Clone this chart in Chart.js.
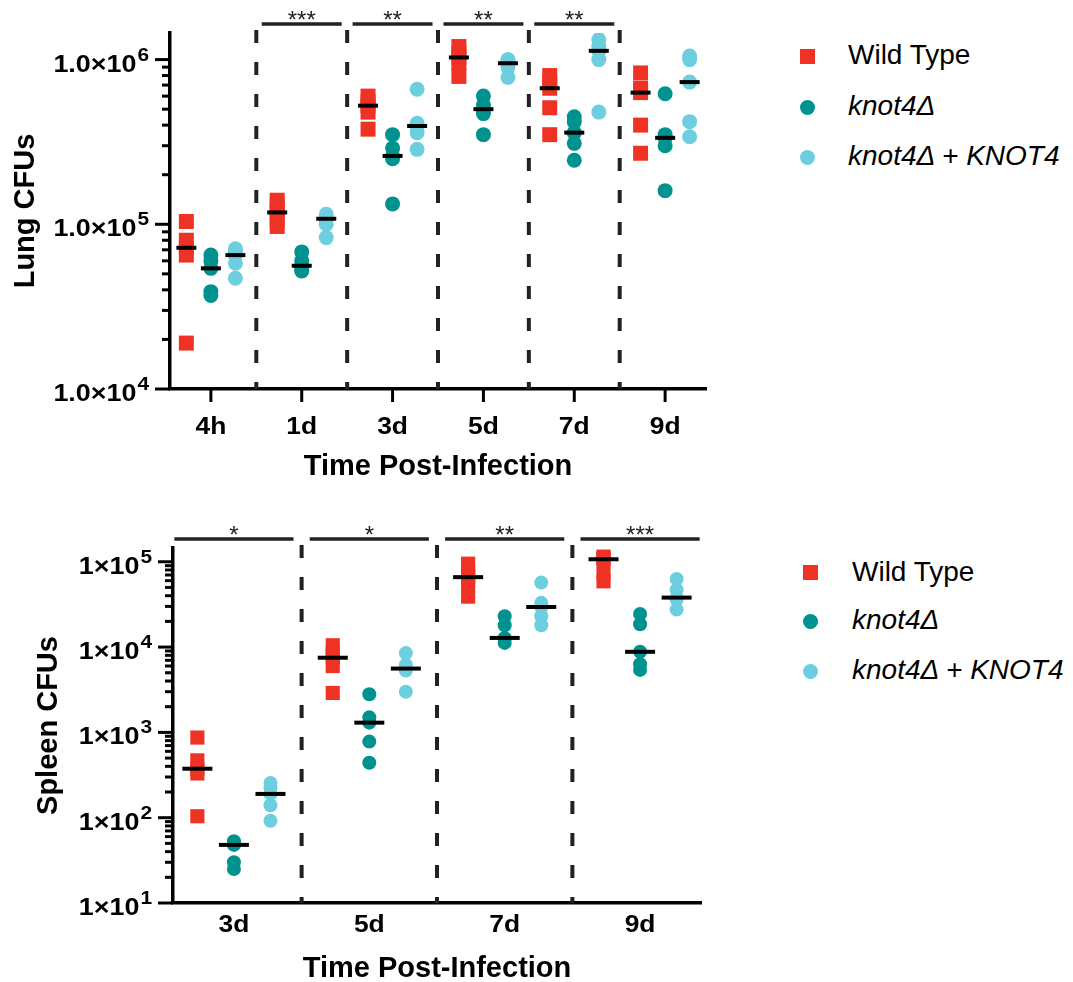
<!DOCTYPE html>
<html>
<head>
<meta charset="utf-8">
<script src="https://cdn.jsdelivr.net/npm/chart.js@4.4.0/dist/chart.umd.min.js"></script>
<style>
  body { margin: 0; background: #fff; width: 1073px; height: 982px; position: relative; overflow: hidden;
         font-family: "Liberation Sans", Arial, sans-serif; }
  .box { position: absolute; left: 0; }
  .leg { position: absolute; font-size: 28px; line-height: 1; color: #000; white-space: nowrap; }
  .mark { position: absolute; }
</style>
</head>
<body>
<div class="box" style="top:0"><canvas id="lung" width="720" height="490"></canvas></div>
<div class="box" style="top:500px"><canvas id="spleen" width="720" height="482"></canvas></div>
<div id="legends"></div>
<script>
// series
const seriesNames = ["Wild Type", "knot4Δ", "knot4Δ + KNOT4"];
const seriesItalic = [false, true, true];
const seriesColors = ["#ee3325", "#00928f", "#6dcedf"];

// lung CFUs, one list of mice per time point
const lungDays = ["4h", "1d", "3d", "5d", "7d", "9d"];
const lungWT = [
  [104000, 80000, 72000, 65000, 19000],
  [140000, 130000, 118000, 105000, 97000],
  [600000, 556000, 525000, 480000, 378000],
  [1200000, 1100000, 1030000, 950000, 790000],
  [800000, 730000, 670000, 510000, 350000],
  [830000, 670000, 630000, 400000, 270000]
];
const lungKO = [
  [65000, 60000, 54000, 39000, 37000],
  [68000, 60000, 56000, 53000, 52000],
  [350000, 290000, 260000, 250000, 133000],
  [600000, 530000, 500000, 470000, 350000],
  [450000, 420000, 360000, 310000, 245000],
  [620000, 350000, 335000, 300000, 160000]
];
const lungComp = [
  [71000, 68000, 65000, 58000, 47000],
  [115000, 110000, 108000, 100000, 83000],
  [660000, 410000, 395000, 360000, 285000],
  [1000000, 970000, 950000, 900000, 780000],
  [1320000, 1200000, 1130000, 1000000, 480000],
  [1050000, 1000000, 730000, 420000, 340000]
];
const lungStars = ["", "***", "**", "**", "**", ""];
const lungYTicks = [1e4, 1e5, 1e6];
const lungYLabels = [["1.0×10", "4"], ["1.0×10", "5"], ["1.0×10", "6"]];

// spleen CFUs
const spleenDays = ["3d", "5d", "7d", "9d"];
const spleenWT = [
  [870, 470, 375, 330, 104],
  [10500, 8500, 7500, 6000, 2900],
  [95000, 77000, 66000, 56000, 39000],
  [115000, 110000, 107000, 75000, 59000]
];
const spleenKO = [
  [53, 50, 48, 30, 25],
  [2800, 1500, 1300, 780, 440],
  [23000, 18000, 12800, 12500, 11200],
  [24500, 18500, 8800, 6300, 5400]
];
const spleenComp = [
  [255, 225, 190, 140, 92],
  [8500, 6200, 5600, 5300, 3000],
  [57000, 33000, 29500, 23000, 18000],
  [63000, 47000, 38000, 36000, 27500]
];
const spleenStars = ["*", "*", "**", "***"];
const spleenYTicks = [1e1, 1e2, 1e3, 1e4, 1e5];
const spleenYLabels = [["1×10", "1"], ["1×10", "2"], ["1×10", "3"], ["1×10", "4"], ["1×10", "5"]];

const FONT = '"Liberation Sans", Arial, sans-serif';
const offsets = [-0.27, 0, 0.27];

function median(arr) {
  const s = [...arr].sort((a, b) => a - b);
  const m = Math.floor(s.length / 2);
  return s.length % 2 ? s[m] : (s[m - 1] + s[m]) / 2;
}

function points(groups, off) {
  return groups.flatMap((vals, i) => vals.map(v => ({ x: i + off, y: v })));
}

function stretchedText(ctx, txt, x, y, font, sx, align) {
  ctx.save();
  ctx.font = font;
  ctx.translate(x, y);
  ctx.scale(sx, 1);
  ctx.textAlign = align;
  ctx.fillText(txt, 0, 0);
  ctx.restore();
}

// axes ticks, labels, titles, dividers and significance bars
const decor = {
  id: "decor",
  afterDraw(chart, args, o) {
    const { ctx, chartArea: a, scales: { x, y } } = chart;
    ctx.save();
    ctx.fillStyle = "#000";
    ctx.strokeStyle = "#000";
    ctx.lineWidth = 3;

    // y ticks
    const e0 = Math.round(Math.log10(y.min));
    const e1 = Math.ceil(Math.log10(y.max));
    for (let e = e0; e <= e1; e++) {
      for (let k = 1; k < 10; k++) {
        const v = k * Math.pow(10, e);
        if (v < y.min * 0.999 || v > y.max * 1.001) continue;
        const py = y.getPixelForValue(v);
        const len = k === 1 ? 15 : 8;
        ctx.beginPath();
        ctx.moveTo(a.left - len, py);
        ctx.lineTo(a.left, py);
        ctx.stroke();
      }
    }
    // y tick labels
    ctx.textBaseline = "alphabetic";
    o.yTicks.forEach((v, i) => {
      const py = y.getPixelForValue(v);
      const right = a.left - 21;
      const supFont = "bold 19px " + FONT;
      ctx.font = supFont;
      const w = ctx.measureText(o.yLabels[i][1]).width * 1.1;
      stretchedText(ctx, o.yLabels[i][1], right, py + 1, supFont, 1.1, "right");
      stretchedText(ctx, o.yLabels[i][0], right - w - 1, py + 12, "bold 24px " + FONT, 1.12, "right");
    });

    // x ticks + labels
    ctx.textBaseline = "middle";
    o.days.forEach((d, i) => {
      const px = x.getPixelForValue(i);
      if (o.xTickLen) {
        ctx.beginPath();
        ctx.moveTo(px, a.bottom);
        ctx.lineTo(px, a.bottom + o.xTickLen);
        ctx.stroke();
      }
      stretchedText(ctx, d, px, a.bottom + o.xLabelDy, "bold 24px " + FONT, 1.1, "center");
    });

    // axis titles
    ctx.font = "bold 29px " + FONT;
    ctx.textAlign = "center";
    ctx.fillText("Time Post-Infection", (a.left + a.right) / 2, a.bottom + o.xTitleDy);
    ctx.save();
    ctx.translate(o.yTitleX, (a.top + a.bottom) / 2);
    ctx.rotate(-Math.PI / 2);
    ctx.fillText(o.yTitle, 0, 0);
    ctx.restore();

    // dashed dividers
    ctx.strokeStyle = "#222";
    ctx.lineWidth = 4;
    ctx.setLineDash([13, 19]);
    for (let i = 0; i < o.days.length - 1; i++) {
      const px = x.getPixelForValue(i + 0.5);
      ctx.beginPath();
      ctx.moveTo(px, o.barY + 6);
      ctx.lineTo(px, a.bottom);
      ctx.stroke();
    }
    ctx.setLineDash([]);

    // significance bars
    ctx.lineWidth = 3.5;
    ctx.font = "24px " + FONT;
    ctx.fillStyle = "#222";
    ctx.textBaseline = "alphabetic";
    o.stars.forEach((s, i) => {
      if (!s) return;
      const x0 = x.getPixelForValue(i - 0.44);
      const x1 = x.getPixelForValue(i + 0.44);
      ctx.beginPath();
      ctx.moveTo(x0, o.barY);
      ctx.lineTo(x1, o.barY);
      ctx.stroke();
      ctx.fillText(s, (x0 + x1) / 2, o.barY + 4);
    });
    ctx.restore();
  }
};

function makeChart(id, o) {
  const groups = [o.wt, o.ko, o.comp];
  const shapes = ["rect", "circle", "circle"];
  const datasets = [{
    label: "median",
    data: groups.flatMap((g, k) => g.map((vals, i) => ({ x: i + offsets[k], y: median(vals) }))),
    pointStyle: "line",
    pointRadius: o.medR,
    borderColor: "#000",
    pointBorderColor: "#000",
    pointBorderWidth: 4,
    showLine: false,
    order: 0
  }];
  groups.forEach((g, k) => {
    datasets.push({
      label: seriesNames[k],
      data: points(g, offsets[k]),
      pointStyle: shapes[k],
      pointRadius: shapes[k] === "rect" ? o.sqR : o.dotR,
      backgroundColor: seriesColors[k],
      pointBackgroundColor: seriesColors[k],
      pointBorderWidth: 0,
      borderWidth: 0,
      showLine: false,
      order: 1
    });
  });

  return new Chart(document.getElementById(id), {
    type: "scatter",
    data: { datasets },
    options: {
      responsive: false,
      animation: false,
      events: [],
      layout: { padding: { left: 0, right: o.padRight, top: o.padTop, bottom: 0 } },
      plugins: {
        legend: { display: false },
        tooltip: { enabled: false },
        decor: o
      },
      scales: {
        x: {
          type: "linear",
          min: -0.45,
          max: o.days.length - 0.55,
          grid: { display: false },
          ticks: { display: false },
          border: { color: "#000", width: 3.5 },
          afterFit: s => { s.height = o.xH; }
        },
        y: {
          type: "logarithmic",
          min: o.yMin,
          max: o.yMax,
          grid: { display: false },
          ticks: { display: false },
          border: { color: "#000", width: 3.5 },
          afterFit: s => { s.width = o.yW; }
        }
      }
    },
    plugins: [decor]
  });
}

makeChart("lung", {
  days: lungDays, wt: lungWT, ko: lungKO, comp: lungComp, stars: lungStars,
  yTicks: lungYTicks, yLabels: lungYLabels, yTitle: "Lung CFUs",
  yMin: 1e4, yMax: 1.45e6,
  yW: 170, xH: 101, padTop: 33, padRight: 14,
  medR: 10, sqR: 10.6, dotR: 7.5,
  xTickLen: 13, xLabelDy: 38, xTitleDy: 78, yTitleX: 26, barY: 24
});

makeChart("spleen", {
  days: spleenDays, wt: spleenWT, ko: spleenKO, comp: spleenComp, stars: spleenStars,
  yTicks: spleenYTicks, yLabels: spleenYLabels, yTitle: "Spleen CFUs",
  yMin: 10, yMax: 1.45e5,
  yW: 173, xH: 79, padTop: 48, padRight: 11,
  medR: 15, sqR: 10, dotR: 7,
  xTickLen: 0, xLabelDy: 22, xTitleDy: 66, yTitleX: 49, barY: 39
});

// legends
function legend(rows, markX, textX) {
  const holder = document.getElementById("legends");
  rows.forEach((cy, k) => {
    const m = document.createElement("div");
    m.className = "mark";
    const size = 15;
    m.style.cssText = `left:${markX - size / 2}px;top:${cy - size / 2}px;width:${size}px;height:${size}px;` +
      `background:${seriesColors[k]};border-radius:${k === 0 ? 0 : 50}%`;
    holder.appendChild(m);
    const t = document.createElement("div");
    t.className = "leg";
    t.textContent = seriesNames[k];
    t.style.left = textX + "px";
    t.style.top = (cy - 15) + "px";
    if (seriesItalic[k]) t.style.fontStyle = "italic";
    holder.appendChild(t);
  });
}
legend([56, 107, 157], 807.5, 848);
legend([572.5, 621, 671], 810.5, 852);
</script>
</body>
</html>
